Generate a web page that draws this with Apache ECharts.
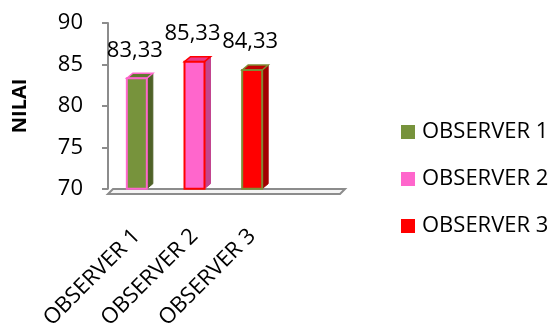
<!DOCTYPE html>
<html>
<head>
<meta charset="utf-8">
<script src="https://cdn.jsdelivr.net/npm/echarts@6/dist/echarts.min.js"></script>
<style>
  html, body { margin: 0; padding: 0; background: #ffffff; }
  #chart { width: 553px; height: 332px; }
</style>
</head>
<body>
<div id="chart"></div>
<script>
// Scores given by each observer
const categories = ['OBSERVER 1', 'OBSERVER 2', 'OBSERVER 3'];
const seriesNames = ['OBSERVER 1', 'OBSERVER 2', 'OBSERVER 3'];
const values = [83.33, 85.33, 84.33];
const yTicks = { min: 70, max: 90, step: 5 };

// Face colours for the pseudo-3D columns: front, side, top, outline
const palette = [
  { front: '#77933C', side: '#4F6228', top: '#62792F', edge: '#FF66CC' },
  { front: '#FF66CC', side: '#C2448F', top: '#E83A8A', edge: '#FF0000' },
  { front: '#FF0000', side: '#A30000', top: '#C00000', edge: '#7E8C34' }
];

const FONT = 'Open Sans';
const GRID = { left: 108, top: 23, width: 173, height: 171 };
const DEPTH = { dx: 6, dy: 5 };

const fmt = v => v.toFixed(2).replace('.', ',');

function makeRender(colors) {
  return function (params, api) {
    const cat = api.value(0);
    const val = api.value(1);
    const topPt = api.coord([cat, val]);
    const basePt = api.coord([cat, yTicks.min]);
    const half = 10;
    const x0 = topPt[0] - half, x1 = topPt[0] + half;
    const yT = topPt[1], yB = basePt[1];
    const { dx, dy } = DEPTH;
    return {
      type: 'group',
      children: [
        { type: 'polygon', shape: { points: [[x1, yT], [x1 + dx, yT - dy], [x1 + dx, yB - dy], [x1, yB]] },
          style: { fill: colors.side, stroke: colors.side, lineWidth: 1 } },
        { type: 'polygon', shape: { points: [[x0, yT], [x0 + dx, yT - dy], [x1 + dx, yT - dy], [x1, yT]] },
          style: { fill: colors.top, stroke: colors.edge, lineWidth: 1.5 } },
        { type: 'rect', shape: { x: x0, y: yT, width: x1 - x0, height: yB - yT },
          style: { fill: colors.front, stroke: colors.edge, lineWidth: 2 } },
        { type: 'text', x: topPt[0] - 2, y: yT - 28,
          style: { text: fmt(val), fontFamily: FONT, fontSize: 22, fill: '#000',
                   align: 'center', verticalAlign: 'middle' } }
      ]
    };
  };
}

const chart = echarts.init(document.getElementById('chart'), null, { renderer: 'canvas' });

const series = seriesNames.map((name, i) => ({
  type: 'custom',
  name: name,
  itemStyle: { color: palette[i].front },
  renderItem: makeRender(palette[i]),
  data: [[i, values[i]]],
  z: 3
}));

// Thin floor plate under the columns, drawn slightly past the last column
const floorRight = GRID.left + 232;
const floorY = GRID.top + GRID.height;

chart.setOption({
  animation: false,
  textStyle: { fontFamily: FONT },
  grid: GRID,
  legend: {
    orient: 'vertical',
    left: 396,
    top: 116,
    itemWidth: 14,
    itemHeight: 14,
    itemGap: 25,
    icon: 'rect',
    textStyle: { fontFamily: FONT, fontSize: 22, color: '#000', padding: [0, 0, 0, 2] },
    data: seriesNames
  },
  xAxis: {
    type: 'category',
    data: categories,
    axisLine: { show: false },
    axisTick: { show: false },
    axisLabel: { rotate: 45, margin: 44, fontFamily: FONT, fontSize: 22, color: '#000', interval: 0 }
  },
  yAxis: {
    type: 'value',
    min: yTicks.min,
    max: yTicks.max,
    interval: yTicks.step,
    name: 'NILAI',
    nameLocation: 'middle',
    nameGap: 78,
    nameRotate: 90,
    nameTextStyle: { fontFamily: FONT, fontSize: 20, fontWeight: 'bold', color: '#000' },
    axisLine: { show: true, lineStyle: { color: '#8C8C8C', width: 2 } },
    axisTick: { show: true, length: 6, lineStyle: { color: '#8C8C8C', width: 2 } },
    axisLabel: { margin: 25, fontFamily: FONT, fontSize: 22, color: '#000' },
    splitLine: { show: false }
  },
  graphic: [{
    type: 'polygon',
    z: 1,
    shape: { points: [[GRID.left, floorY], [GRID.left + 5, floorY - 5], [floorRight + 5, floorY - 5], [floorRight, floorY]] },
    style: { fill: '#F4F4F4', stroke: '#8C8C8C', lineWidth: 2 }
  }],
  series: series
});
</script>
</body>
</html>
